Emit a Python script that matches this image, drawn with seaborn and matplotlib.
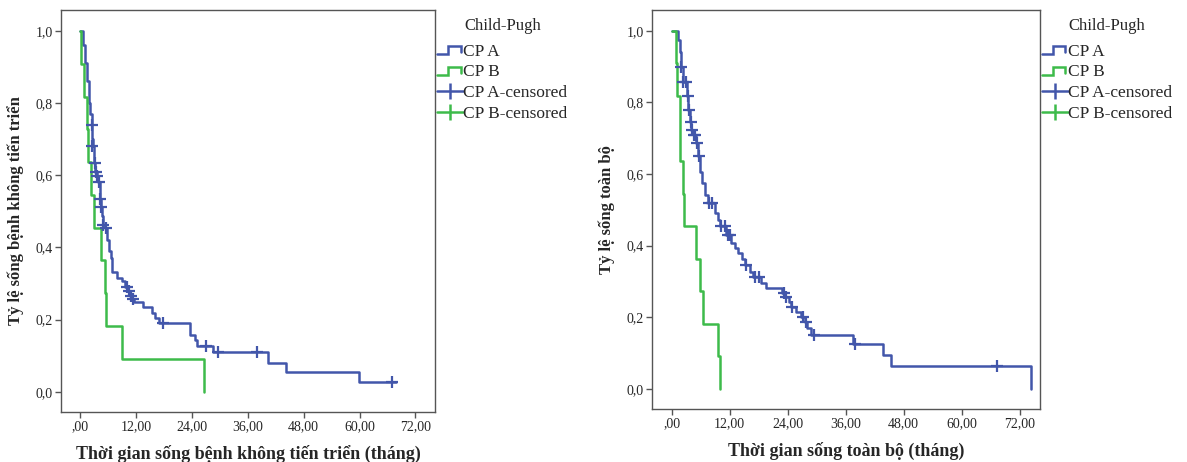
import matplotlib
matplotlib.use("Agg")
import matplotlib.pyplot as plt
import seaborn as sns
from matplotlib.lines import Line2D
from matplotlib.legend_handler import HandlerBase

sns.set_theme(style="white")
plt.rcParams['font.family'] = ['Liberation Serif', 'DejaVu Serif']

# ---------------- data ----------------
# Left: progression-free survival
pfs_a_t = [0, 0.6, 1.1, 1.5, 1.9, 2.2, 2.45, 2.6, 2.7, 2.9, 3.05, 3.3, 3.6, 3.9, 4.2, 4.25, 4.4,
           4.8, 4.9, 5.3, 5.7, 6.2, 6.6, 6.8, 7.9, 8.9, 9.6, 10.3, 10.7, 11.1, 11.6, 13.6, 15.4,
           16.1, 16.9, 23.6, 24.6, 25.1, 28.6, 40.4, 44.3, 59.8, 67.9]
pfs_a_s = [1.0, 0.96, 0.91, 0.86, 0.80, 0.77, 0.74, 0.70, 0.68, 0.655, 0.633, 0.61, 0.598, 0.581,
           0.56, 0.535, 0.513, 0.487, 0.462, 0.455, 0.42, 0.389, 0.37, 0.333, 0.315, 0.306, 0.29,
           0.28, 0.265, 0.257, 0.25, 0.236, 0.218, 0.204, 0.19, 0.158, 0.144, 0.126, 0.109,
           0.081, 0.054, 0.027, 0.027]
pfs_a_cens_t = [2.5, 2.65, 3.1, 3.45, 3.7, 4.15, 4.3, 4.5, 5.0, 5.5, 10.1, 10.5, 10.9, 11.3,
                17.9, 27.1, 29.6, 38.0, 67.0]
pfs_a_cens_s = [0.74, 0.68, 0.633, 0.61, 0.598, 0.581, 0.535, 0.513, 0.462, 0.455, 0.29, 0.28,
                0.265, 0.257, 0.19, 0.126, 0.109, 0.109, 0.027]
pfs_b_t = [0, 0.2, 0.9, 1.4, 1.8, 2.4, 2.9, 4.4, 5.4, 5.6, 8.9, 26.6]
pfs_b_s = [1.0, 0.909, 0.818, 0.727, 0.636, 0.545, 0.455, 0.364, 0.273, 0.182, 0.091, 0.0]

# Right: overall survival
os_a_t = [0, 1.2, 1.6, 1.9, 2.4, 3.2, 3.45, 3.7, 4.0, 4.6, 5.0, 5.4, 5.8, 6.3, 6.9, 7.5, 8.9,
          9.5, 9.9, 11.2, 12.2, 13.0, 13.7, 14.5, 15.2, 16.2, 16.9, 18.5, 19.5, 22.9, 23.4,
          24.2, 24.7, 25.6, 26.8, 27.5, 28.0, 28.9, 37.6, 43.7, 45.4, 74.3]
os_a_s = [1.0, 0.975, 0.94, 0.90, 0.858, 0.818, 0.78, 0.745, 0.722, 0.709, 0.688, 0.649, 0.607,
          0.575, 0.542, 0.52, 0.49, 0.472, 0.455, 0.43, 0.407, 0.393, 0.379, 0.362, 0.346,
          0.326, 0.312, 0.295, 0.281, 0.268, 0.256, 0.243, 0.23, 0.216, 0.202, 0.188, 0.17,
          0.151, 0.126, 0.095, 0.064, 0.0]
os_a_cens_t = [2.0, 2.4, 3.0, 3.3, 3.5, 3.9, 4.2, 4.5, 4.8, 5.25, 5.6, 7.7, 8.4, 10.1, 11.0,
               11.7, 12.0, 15.4, 17.3, 18.1, 23.2, 23.6, 24.9, 27.2, 27.7, 29.4, 38.0, 67.4]
os_a_cens_s = [0.90, 0.858, 0.858, 0.818, 0.78, 0.745, 0.722, 0.709, 0.709, 0.688, 0.649, 0.52,
               0.52, 0.455, 0.455, 0.43, 0.43, 0.346, 0.312, 0.312, 0.268, 0.256, 0.23, 0.202,
               0.188, 0.151, 0.126, 0.064]
os_b_t = [0, 0.8, 1.1, 1.7, 2.3, 2.5, 5.0, 5.8, 6.5, 9.5, 10.0]
os_b_s = [1.0, 0.909, 0.818, 0.636, 0.545, 0.455, 0.364, 0.273, 0.182, 0.091, 0.0]

x_ticks = [0, 12, 24, 36, 48, 60, 72]
x_ticklabels = [",00", "12,00", "24,00", "36,00", "48,00", "60,00", "72,00"]
y_ticks = [0.0, 0.2, 0.4, 0.6, 0.8, 1.0]
y_ticklabels = ["0,0", "0,2", "0,4", "0,6", "0,8", "1,0"]
legend_title = "Child-Pugh"
legend_labels = ["CP A", "CP B", "CP A-censored", "CP B-censored"]

BLUE = "#4256aa"
GREEN = "#3dbb4a"
EDGE = "#555555"


class StepHandler(HandlerBase):
    def create_artists(self, legend, orig_handle, xdescent, ydescent, width, height, fontsize, trans):
        x0, y0 = -xdescent, -ydescent
        xs = [x0, x0 + 0.42 * width, x0 + 0.42 * width, x0 + 0.9 * width, x0 + 0.9 * width]
        ys = [y0 + 0.1 * height, y0 + 0.1 * height, y0 + 0.8 * height, y0 + 0.8 * height,
              y0 + 0.3 * height]
        ln = Line2D(xs, ys, color=orig_handle.get_color(), lw=orig_handle.get_linewidth(),
                    transform=trans, solid_joinstyle='miter')
        return [ln]


def panel(ax, a_t, a_s, ac_t, ac_s, b_t, b_s, xlabel, ylabel):
    sns.lineplot(x=a_t, y=a_s, drawstyle='steps-post', estimator=None, sort=False,
                 color=BLUE, lw=1.8, ax=ax)
    sns.lineplot(x=b_t, y=b_s, drawstyle='steps-post', estimator=None, sort=False,
                 color=GREEN, lw=1.8, ax=ax)
    sns.scatterplot(x=ac_t, y=ac_s, marker='+', s=70, color=BLUE, linewidth=1.6, ax=ax,
                    zorder=3)
    ax.set_xlim(-4.1, 76.2)
    ax.set_ylim(-0.056, 1.058)
    ax.set_xticks(x_ticks)
    ax.set_xticklabels(x_ticklabels)
    ax.set_yticks(y_ticks)
    ax.set_yticklabels(y_ticklabels)
    ax.tick_params(axis='both', which='both', direction='out', length=4, width=1,
                   color=EDGE, labelsize=10, pad=2, bottom=True, left=True)
    for sp in ax.spines.values():
        sp.set_color(EDGE)
        sp.set_linewidth(1.0)
    ax.set_xlabel(xlabel, fontsize=13, fontweight='bold', labelpad=8)
    ax.set_ylabel(ylabel, fontsize=12, fontweight='bold', labelpad=8)
    handles = [Line2D([], [], color=BLUE, lw=1.8), Line2D([], [], color=GREEN, lw=1.8),
               Line2D([], [], color=BLUE, lw=1.8, marker='|', ms=12, mew=1.8),
               Line2D([], [], color=GREEN, lw=1.8, marker='|', ms=12, mew=1.8)]
    leg = ax.legend(handles, legend_labels, title=legend_title, loc='upper left',
                    bbox_to_anchor=(0.985, 1.0), frameon=False, fontsize=12.5,
                    title_fontsize=12, handlelength=1.5, handletextpad=0.0,
                    labelspacing=0.26, borderaxespad=0.1, borderpad=0.35,
                    handler_map={handles[0]: StepHandler(), handles[1]: StepHandler()})
    leg._legend_box.sep = 7


fig = plt.figure(figsize=(11.87, 4.62), dpi=100)
ax1 = fig.add_axes([61 / 1187, 1 - 412 / 462, 374 / 1187, 402 / 462])
ax2 = fig.add_axes([652 / 1187, 1 - 409 / 462, 388 / 1187, 399 / 462])

panel(ax1, pfs_a_t, pfs_a_s, pfs_a_cens_t, pfs_a_cens_s, pfs_b_t, pfs_b_s,
      "Thời gian sống bệnh không tiến triển (tháng)", "Tỷ lệ sống bệnh không tiến triển")
panel(ax2, os_a_t, os_a_s, os_a_cens_t, os_a_cens_s, os_b_t, os_b_s,
      "Thời gian sống toàn bộ (tháng)", "Tỷ lệ sống toàn bộ")

fig.savefig("out.png", dpi=100, facecolor="white")
